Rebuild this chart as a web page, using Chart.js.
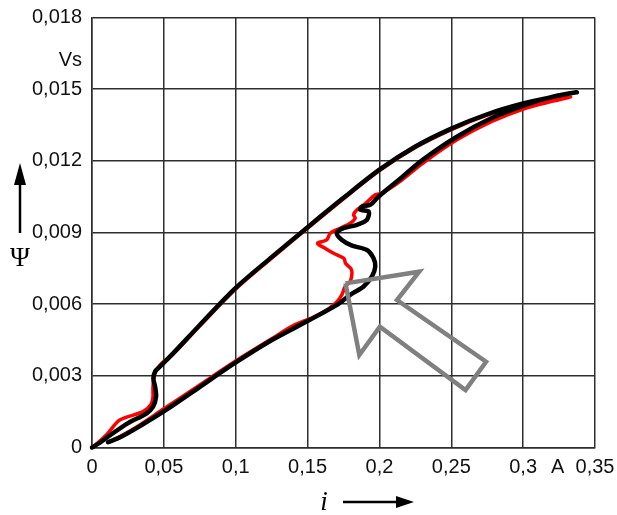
<!DOCTYPE html>
<html>
<head>
<meta charset="utf-8">
<script src="https://cdn.jsdelivr.net/npm/chart.js@4/dist/chart.umd.min.js"></script>
<style>
  html, body { margin: 0; padding: 0; background: #fff; }
  #wrap { width: 617px; height: 515px; }
</style>
</head>
<body>
<div id="wrap"><canvas id="loop"></canvas></div>
<script>
// axis ticks (current in A, flux linkage in Vs)
const xTickValues = [0, 0.05, 0.1, 0.15, 0.2, 0.25, 0.3, 0.35];
const yTickValues = [0, 0.003, 0.006, 0.009, 0.012, 0.015, 0.018];
const xUnitLabel = "A";
const xUnitPos = 0.324;
const yUnitLabel = "Vs";
const yUnitPos = 0.0162;

// measured loop (black): rising from origin along the upper branch, back along the lower one
const blackI = [
  0, 0.006, 0.0111, 0.0251, 0.0378, 0.0425, 0.0446, 0.0439, 0.0427, 0.0439, 0.0474, 0.0566,
  0.075, 0.1, 0.125, 0.15, 0.175, 0.2, 0.225, 0.25, 0.275, 0.3, 0.325, 0.3374,
  0.3207, 0.3016, 0.2778, 0.2539, 0.2301, 0.2134, 0.205, 0.1983, 0.1936, 0.1878, 0.1867, 0.1925, 0.1913,
  0.1844, 0.175, 0.1704, 0.1739, 0.181, 0.1913, 0.1959, 0.1971, 0.1948, 0.189, 0.1797, 0.1704,
  0.149, 0.1252, 0.099, 0.0751, 0.0513, 0.0346, 0.0203, 0.0111
];
const blackPsi = [
  0, 0.00022, 0.00045, 0.00102, 0.00142, 0.00171, 0.00213, 0.00255, 0.0029, 0.00318, 0.00339, 0.00395,
  0.00513, 0.00668, 0.00797, 0.00922, 0.01045, 0.01163, 0.0126, 0.01335, 0.01395, 0.0144, 0.01473, 0.01487,
  0.01469, 0.01434, 0.01378, 0.01301, 0.01204, 0.0112, 0.01079, 0.01044, 0.01016, 0.01009, 0.00995, 0.00988, 0.00953,
  0.00932, 0.00918, 0.00897, 0.00869, 0.00845, 0.00827, 0.00792, 0.00757, 0.00716, 0.00674, 0.00639, 0.00597,
  0.00526, 0.0045, 0.00352, 0.00254, 0.00156, 0.00094, 0.00045, 0.00022
];

// simulated loop (red)
const redI = [
  0, 0.006, 0.0111, 0.0193, 0.0355, 0.041, 0.0424, 0.0424, 0.043, 0.0445, 0.048, 0.0566,
  0.075, 0.1, 0.125, 0.15, 0.175, 0.2, 0.225, 0.25, 0.275, 0.3, 0.32, 0.333,
  0.3207, 0.3016, 0.2778, 0.2539, 0.2301, 0.2134, 0.2015, 0.1971, 0.19, 0.1844, 0.182, 0.1832, 0.1797,
  0.1727, 0.1658, 0.1633, 0.1569, 0.1621, 0.1681, 0.1753, 0.1764, 0.18, 0.1809, 0.1797, 0.1762,
  0.1739, 0.1705, 0.1645, 0.1538, 0.14, 0.125, 0.1, 0.075, 0.05, 0.03, 0.015, 0.0111
];
const redPsi = [
  0, 0.0003, 0.0006, 0.00115, 0.0015, 0.0018, 0.0021, 0.0025, 0.0029, 0.0032, 0.0035, 0.00392,
  0.00509, 0.00664, 0.00793, 0.00918, 0.01041, 0.01159, 0.01256, 0.01331, 0.01391, 0.01436, 0.0146, 0.01468,
  0.0145, 0.0142, 0.01364, 0.01288, 0.0119, 0.0111, 0.01064, 0.01058, 0.0102, 0.00995, 0.00974, 0.0096, 0.00939,
  0.00918, 0.00897, 0.00869, 0.00855, 0.00834, 0.00813, 0.00792, 0.00771, 0.0075, 0.0073, 0.00695, 0.00674,
  0.0064, 0.0061, 0.0058, 0.00545, 0.0051, 0.00455, 0.00362, 0.00262, 0.00162, 0.00082, 0.00032, 0.00022
];

// outlined pointer arrow
const arrowI = [0.1764, 0.2277, 0.2122, 0.2742, 0.2599, 0.2003, 0.186, 0.1764];
const arrowPsi = [0.00687, 0.00736, 0.00617, 0.00359, 0.0024, 0.00506, 0.00387, 0.00687];

const toPoints = (xs, ys) => xs.map((x, k) => ({ x: x, y: ys[k] }));
const fmt = (v) => String(v).replace(".", ",");

const gridColor = "#2e2e2e";
const tickFont = { family: "'Liberation Sans', Arial, sans-serif", size: 20 };

const axisTitles = {
  id: "axisTitles",
  afterDraw(chart) {
    const ctx = chart.ctx;
    ctx.save();
    ctx.fillStyle = "#000";
    ctx.strokeStyle = "#000";

    // Psi with arrow pointing up
    ctx.font = "27px 'Liberation Serif', serif";
    ctx.textAlign = "center";
    ctx.textBaseline = "middle";
    ctx.fillText("\u03A8", 20, 259);
    ctx.lineWidth = 2.5;
    ctx.beginPath();
    ctx.moveTo(20, 233);
    ctx.lineTo(20, 180);
    ctx.stroke();
    ctx.beginPath();
    ctx.moveTo(20, 163);
    ctx.lineTo(26, 185);
    ctx.lineTo(14, 185);
    ctx.closePath();
    ctx.fill();

    // i with arrow pointing right
    ctx.font = "italic 27px 'Liberation Serif', serif";
    ctx.fillText("i", 324, 503);
    ctx.beginPath();
    ctx.moveTo(343, 502);
    ctx.lineTo(398, 502);
    ctx.stroke();
    ctx.beginPath();
    ctx.moveTo(414, 502);
    ctx.lineTo(396, 496);
    ctx.lineTo(396, 508);
    ctx.closePath();
    ctx.fill();

    ctx.restore();
  }
};

new Chart(document.getElementById("loop"), {
  type: "scatter",
  data: {
    datasets: [
      {
        data: toPoints(arrowI, arrowPsi),
        showLine: true,
        borderColor: "#808080",
        borderWidth: 4.5,
        borderJoinStyle: "miter",
        pointRadius: 0,
        tension: 0,
        order: 0,
      },
      {
        data: toPoints(blackI, blackPsi),
        showLine: true,
        borderColor: "#000000",
        borderWidth: 4.5,
        borderCapStyle: "round",
        borderJoinStyle: "round",
        pointRadius: 0,
        tension: 0.3,
        clip: false,
        order: 1,
      },
      {
        data: toPoints(redI, redPsi),
        showLine: true,
        borderColor: "#ff0000",
        borderWidth: 3.5,
        borderCapStyle: "round",
        borderJoinStyle: "round",
        pointRadius: 0,
        tension: 0.3,
        clip: false,
        order: 2,
      },
    ],
  },
  options: {
    responsive: true,
    maintainAspectRatio: false,
    animation: false,
    layout: { padding: { top: 17.5, right: 22, left: 0, bottom: 0 } },
    plugins: { legend: { display: false }, tooltip: { enabled: false } },
    scales: {
      x: {
        type: "linear",
        min: 0,
        max: 0.35,
        afterBuildTicks: (s) => {
          s.ticks = xTickValues.concat([xUnitPos]).sort((a, b) => a - b).map((v) => ({ value: v }));
        },
        afterFit: (s) => {
          s.height = 67.5;
          s.paddingLeft = 0;
          s.paddingRight = 0;
        },
        ticks: {
          autoSkip: false,
          maxRotation: 0,
          padding: 8,
          color: "#111",
          font: tickFont,
          callback: (v) => (v === xUnitPos ? xUnitLabel : fmt(v)),
        },
        grid: {
          drawTicks: false,
          lineWidth: 1.5,
          color: (c) => (c.tick && c.tick.value === xUnitPos ? "rgba(0,0,0,0)" : gridColor),
        },
        border: { display: true, color: gridColor, width: 1.5 },
      },
      y: {
        type: "linear",
        min: 0,
        max: 0.018,
        afterBuildTicks: (s) => {
          s.ticks = yTickValues.concat([yUnitPos]).sort((a, b) => a - b).map((v) => ({ value: v }));
        },
        afterFit: (s) => {
          s.width = 92;
          s.paddingTop = 0;
          s.paddingBottom = 0;
        },
        ticks: {
          autoSkip: false,
          padding: 10,
          color: "#111",
          font: tickFont,
          callback: (v) => (v === yUnitPos ? yUnitLabel : fmt(v)),
        },
        grid: {
          drawTicks: false,
          lineWidth: 1.5,
          color: (c) => (c.tick && c.tick.value === yUnitPos ? "rgba(0,0,0,0)" : gridColor),
        },
        border: { display: true, color: gridColor, width: 1.5 },
      },
    },
  },
  plugins: [axisTitles],
});
</script>
</body>
</html>
